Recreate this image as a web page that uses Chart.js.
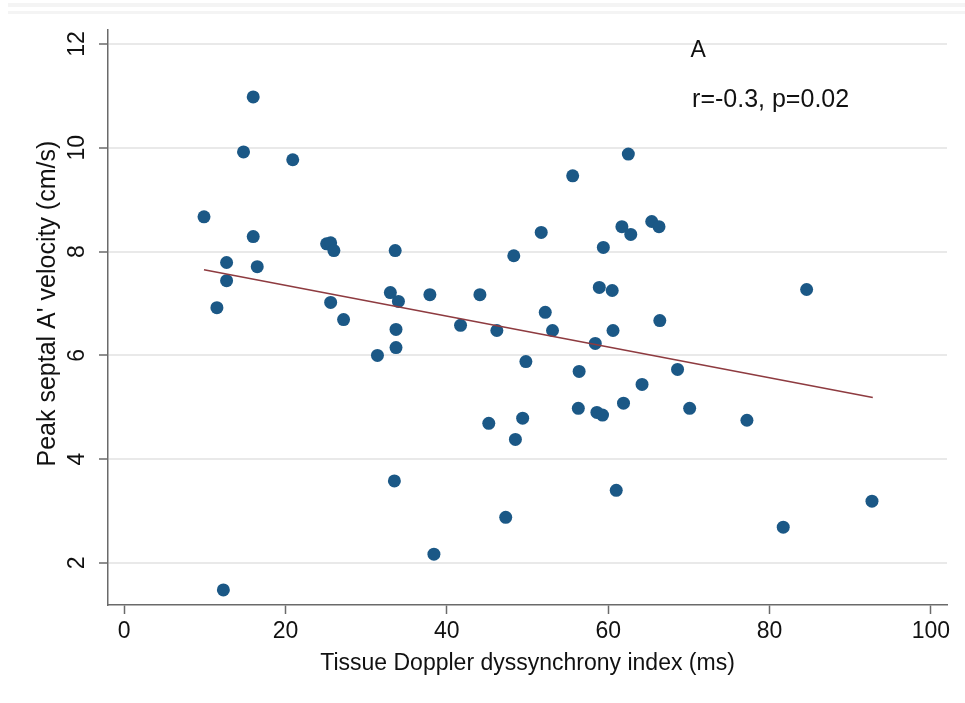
<!DOCTYPE html>
<html>
<head>
<meta charset="utf-8">
<script src="https://cdn.jsdelivr.net/npm/chart.js@4/dist/chart.umd.min.js"></script>
<style>
  html, body { margin: 0; padding: 0; background: #ffffff; }
  #wrap { width: 965px; height: 703px; position: relative; }
</style>
</head>
<body>
<div id="wrap"><canvas id="c" width="965" height="703"></canvas></div>
<script>
// ---- data ----
const dyssynchronyIndex = [9.9, 11.5, 12.7, 12.7, 12.3, 14.8, 16.0, 16.0, 16.5, 20.9,
  25.1, 25.6, 26.0, 25.6, 27.2, 31.4, 33.0, 33.6, 34.0, 33.7,
  33.7, 33.5, 37.9, 38.4, 41.7, 44.1, 45.2, 46.2, 47.3, 48.3,
  48.5, 49.4, 49.8, 51.7, 52.2, 53.1, 55.6, 56.4, 56.3, 58.4,
  58.9, 58.6, 59.3, 59.4, 60.5, 60.6, 61.0, 61.7, 61.9, 62.5,
  62.8, 64.2, 65.4, 66.3, 66.4, 68.6, 70.1, 77.2, 81.7, 84.6, 92.7];
const septalAVelocity = [8.67, 6.92, 7.79, 7.44, 1.48, 9.92, 10.98, 8.29, 7.71, 9.77,
  8.15, 8.17, 8.02, 7.02, 6.69, 6.0, 7.21, 8.02, 7.04, 6.5,
  6.15, 3.58, 7.17, 2.17, 6.58, 7.17, 4.69, 6.48, 2.88, 7.92,
  4.38, 4.79, 5.88, 8.37, 6.83, 6.48, 9.46, 5.69, 4.98, 6.23,
  7.31, 4.9, 4.85, 8.08, 7.25, 6.48, 3.4, 8.48, 5.08, 9.88,
  8.33, 5.44, 8.58, 8.48, 6.67, 5.73, 4.98, 4.75, 2.69, 7.27, 3.19];
const fitX = [9.9, 92.8];
const fitY = [7.65, 5.19];
const xTickValues = [0, 20, 40, 60, 80, 100];
const yTickValues = [2, 4, 6, 8, 10, 12];
const xTitle = 'Tissue Doppler dyssynchrony index (ms)';
const yTitle = "Peak septal A' velocity (cm/s)";
const panelLabel = 'A';
const statsLabel = 'r=-0.3, p=0.02';

// ---- build chart ----
const scatterPoints = dyssynchronyIndex.map((x, i) => ({ x: x, y: septalAVelocity[i] }));
const fitPoints = fitX.map((x, i) => ({ x: x, y: fitY[i] }));

const FONT = "'Liberation Sans', Arial, Helvetica, sans-serif";
const AXIS_COLOR = '#6a6a6a';

const notesPlugin = {
  id: 'notes',
  beforeDraw(chart) {
    // faint scan bands along the top edge of the reference image
    const ctx = chart.ctx;
    ctx.save();
    ctx.fillStyle = '#f4f4f4';
    ctx.fillRect(8, 3, chart.width - 8, 4);
    ctx.fillRect(8, 11, chart.width - 8, 3);
    ctx.restore();
  },
  afterDatasetsDraw(chart, args, opts) {
    const ctx = chart.ctx;
    const xs = chart.scales.x, ys = chart.scales.y;
    ctx.save();
    ctx.fillStyle = '#111111';
    ctx.textAlign = 'left';
    ctx.textBaseline = 'middle';
    opts.items.forEach(it => {
      ctx.font = it.size + 'px ' + FONT;
      ctx.fillText(it.text, xs.getPixelForValue(it.x), ys.getPixelForValue(it.y));
    });
    ctx.restore();
  }
};

new Chart(document.getElementById('c'), {
  type: 'scatter',
  data: {
    datasets: [
      {
        type: 'line',
        label: 'Fitted values',
        data: fitPoints,
        borderColor: '#8e3b40',
        borderWidth: 1.6,
        pointRadius: 0,
        fill: false,
        order: 0
      },
      {
        label: yTitle,
        data: scatterPoints,
        backgroundColor: '#1b5886',
        borderColor: '#1b5886',
        borderWidth: 0,
        pointRadius: 6.5,
        pointHoverRadius: 6.5,
        order: 1
      }
    ]
  },
  options: {
    responsive: false,
    animation: false,
    events: [],
    layout: { padding: { top: 30, right: 18, bottom: 0, left: 0 } },
    plugins: {
      legend: { display: false },
      tooltip: { enabled: false },
      notes: {
        items: [
          { text: panelLabel, x: 70.2, y: 11.88, size: 23 },
          { text: statsLabel, x: 70.4, y: 10.92, size: 25 }
        ]
      }
    },
    scales: {
      x: {
        type: 'linear',
        min: -2,
        max: 102,
        afterBuildTicks: (s) => { s.ticks = xTickValues.map(v => ({ value: v })); },
        afterFit: (s) => { s.height = 98; },
        grid: { drawOnChartArea: false, drawTicks: true, tickLength: 9, tickColor: AXIS_COLOR, tickWidth: 1.5 },
        border: { display: true, color: AXIS_COLOR, width: 1.5 },
        ticks: { color: '#111111', font: { family: FONT, size: 23 }, padding: 4, maxRotation: 0, minRotation: 0 },
        title: { display: true, text: xTitle, color: '#111111', font: { family: FONT, size: 23 }, padding: { top: 0, bottom: 26 } }
      },
      y: {
        type: 'linear',
        min: 1.19,
        max: 12.27,
        afterBuildTicks: (s) => { s.ticks = yTickValues.map(v => ({ value: v })); },
        afterFit: (s) => { s.width = 108; },
        grid: { drawOnChartArea: true, color: '#e9e9e9', lineWidth: 2, drawTicks: true, tickLength: 9, tickColor: AXIS_COLOR, tickWidth: 1.5 },
        border: { display: true, color: AXIS_COLOR, width: 1.5 },
        ticks: { color: '#111111', font: { family: FONT, size: 23 }, padding: 9, minRotation: 90, maxRotation: 90, crossAlign: 'center' },
        title: { display: true, text: '    ' + yTitle, color: '#111111', font: { family: FONT, size: 25 }, padding: { top: 33, bottom: 0 } }
      }
    }
  },
  plugins: [notesPlugin]
});
</script>
</body>
</html>
